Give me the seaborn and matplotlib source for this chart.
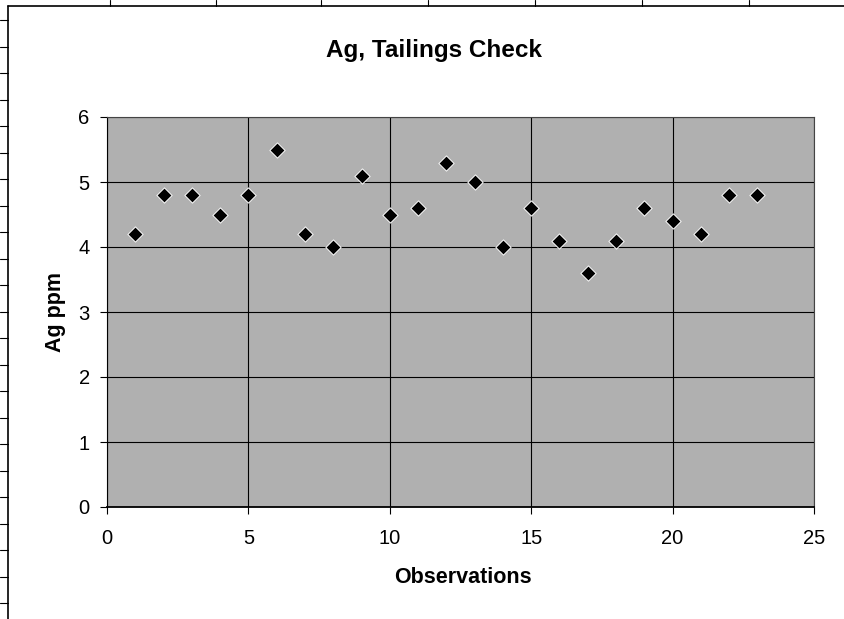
import matplotlib
matplotlib.use("Agg")
import matplotlib.pyplot as plt
import seaborn as sns
import pandas as pd
from matplotlib.lines import Line2D

observations = list(range(1, 24))
ag_ppm = [4.2, 4.8, 4.8, 4.5, 4.8, 5.5, 4.2, 4.0, 5.1, 4.5, 4.6, 5.3,
          5.0, 4.0, 4.6, 4.1, 3.6, 4.1, 4.6, 4.4, 4.2, 4.8, 4.8]
x_ticks = [0, 5, 10, 15, 20, 25]
y_ticks = [0, 1, 2, 3, 4, 5, 6]

df = pd.DataFrame({"Observations": observations, "Ag ppm": ag_ppm})

sns.set_style("white")
plt.rcParams['font.family'] = ['Liberation Sans', 'DejaVu Sans']
plt.rcParams['text.color'] = 'black'
plt.rcParams['axes.labelcolor'] = 'black'
plt.rcParams['xtick.color'] = 'black'
plt.rcParams['ytick.color'] = 'black'

W, H = 845, 619
L, R, T, B = 107, 814, 117, 507
fig = plt.figure(figsize=(W / 100, H / 100), dpi=100)
ax = fig.add_axes([L / W, 1 - B / H, (R - L) / W, (B - T) / H])
ax.set_facecolor('#b0b0b0')

sns.scatterplot(data=df, x="Observations", y="Ag ppm", marker='D', s=60,
                color='black', edgecolor='white', linewidth=0.7, ax=ax, zorder=3)

ax.set_xlim(0, 25)
ax.set_ylim(0, 6)
ax.set_xticks(x_ticks)
ax.set_yticks(y_ticks)
ax.grid(True, color='black', linewidth=0.8)
ax.set_axisbelow(True)
for s in ax.spines.values():
    s.set_color('#444444')
    s.set_linewidth(0.8)
ax.spines['left'].set_color('black')
ax.spines['bottom'].set_color('black')
ax.spines['bottom'].set_linewidth(1.3)
ax.tick_params(axis='both', direction='out', length=5, width=0.8, color='black',
               labelsize=14.5, left=True, bottom=True)
ax.tick_params(axis='x', pad=11)
ax.tick_params(axis='y', pad=7.5)

ax.set_xlabel("Observations", fontsize=15.5, fontweight='bold', va='baseline')
ax.xaxis.set_label_coords((462.5 - L) / (R - L), (B - 583.3) / (B - T))
ax.set_ylabel("Ag ppm", fontsize=15.5, fontweight='bold', va='bottom')
ax.yaxis.set_label_coords((66 - L) / (R - L), (B - 311.7) / (B - T))

fig.text(434.5 / W, 1 - 57.3 / H, "Ag, Tailings Check", ha='center', va='baseline',
         fontsize=17.5, fontweight='bold')

# chart border (left and top edges) and spreadsheet cell lines
fig.add_artist(Line2D([8 / W, 8 / W], [0, 1 - 6 / H], color='black', lw=1.2, transform=fig.transFigure))
fig.add_artist(Line2D([8 / W, 1], [1 - 6 / H, 1 - 6 / H], color='black', lw=1.2, transform=fig.transFigure))
for xp in [110, 216, 321, 428, 535, 642, 749]:
    fig.add_artist(Line2D([xp / W, xp / W], [1 - 6 / H, 1], color='black', lw=0.8, transform=fig.transFigure))
yp = 20
while yp < H:
    fig.add_artist(Line2D([0, 8 / W], [1 - yp / H, 1 - yp / H], color='black', lw=0.8, transform=fig.transFigure))
    yp += 26.5

fig.savefig("out.png", dpi=100)
